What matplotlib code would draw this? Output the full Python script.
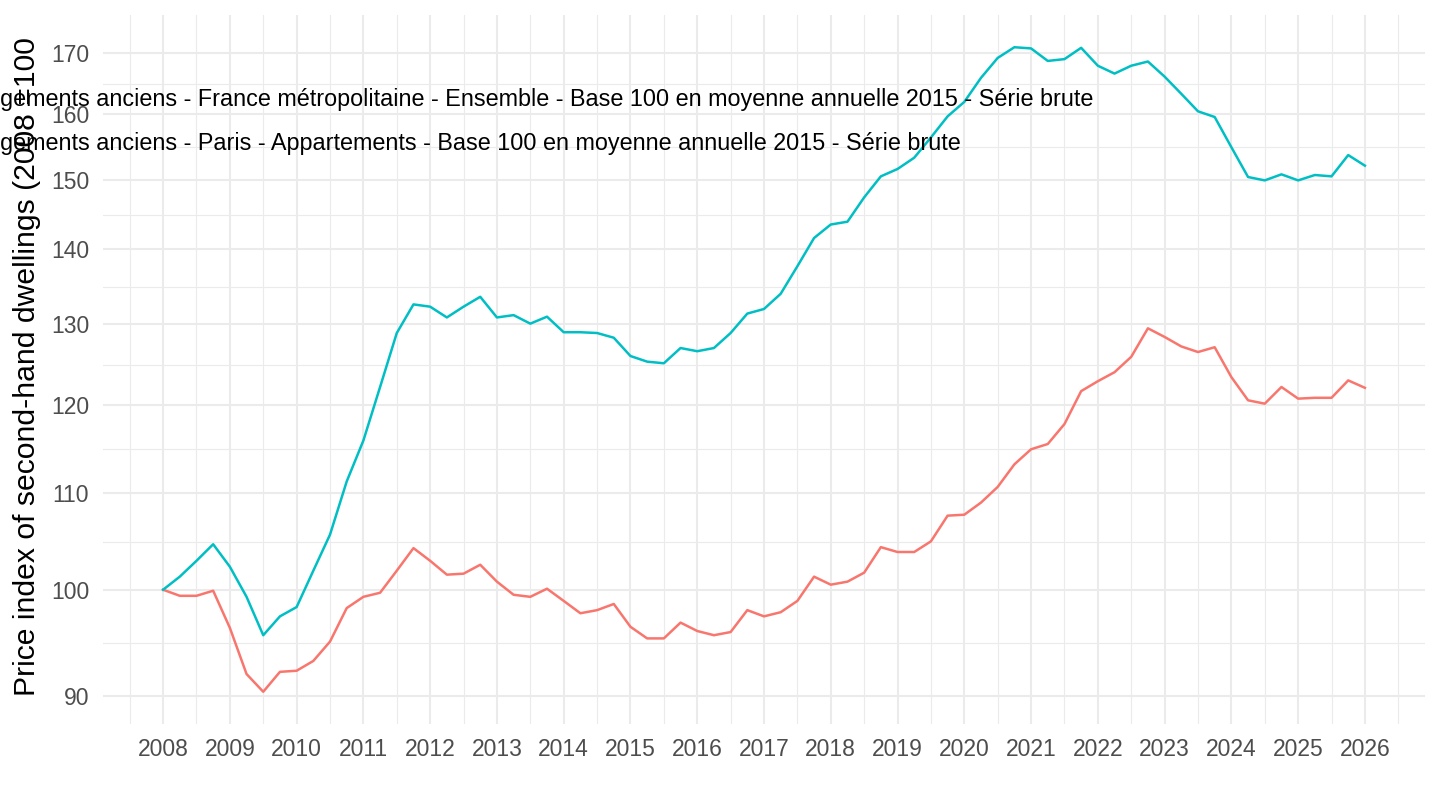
import numpy as np
import pandas as pd
import matplotlib
matplotlib.use("Agg")
import matplotlib.pyplot as plt

plt.rcParams['font.family'] = ['Liberation Sans', 'DejaVu Sans']

# quarterly index, 2008Q1 .. 2026Q1 (2008 = 100)
quarters = pd.date_range("2008-01-01", "2026-01-01", freq="QS")

france = [100.0, 99.4, 99.4, 99.9,
          96.3, 92.0, 90.4, 92.2,
          92.3, 93.2, 95.0, 98.2,
          99.3, 99.7, 101.9, 104.2,
          102.9, 101.5, 101.6, 102.5,
          100.8, 99.5, 99.3, 100.1,
          98.9, 97.7, 98.0, 98.6,
          96.4, 95.3, 95.3, 96.8,
          96.0, 95.6, 95.9, 98.0,
          97.4, 97.8, 98.9, 101.3,
          100.5, 100.8, 101.7, 104.3,
          103.8, 103.8, 104.9, 107.6,
          107.7, 109.0, 110.7, 113.2,
          114.9, 115.5, 117.8, 121.7,
          122.9, 124.0, 125.9, 129.5,
          128.4, 127.2, 126.5, 127.1,
          123.4, 120.6, 120.2, 122.2,
          120.8, 120.9, 120.9, 123.0,
          122.1]

paris = [100.0, 101.3, 102.9, 104.6,
         102.3, 99.3, 95.6, 97.4,
         98.3, 101.9, 105.6, 111.3,
         115.9, 122.2, 128.9, 132.6,
         132.3, 130.9, 132.3, 133.6,
         130.9, 131.2, 130.1, 131.0,
         129.0, 129.0, 128.9, 128.3,
         126.0, 125.3, 125.1, 127.0,
         126.6, 127.0, 128.9, 131.4,
         132.0, 134.0, 137.7, 141.6,
         143.5, 143.9, 147.4, 150.5,
         151.6, 153.3, 156.4, 159.7,
         162.0, 165.9, 169.2, 171.0,
         170.8, 168.7, 169.0, 170.9,
         167.9, 166.6, 167.9, 168.6,
         166.1, 163.3, 160.5, 159.6,
         154.9, 150.4, 149.9, 150.8,
         149.9, 150.7, 150.5, 153.7,
         152.1]

labels = ["Indice des prix des logements anciens - France métropolitaine - Ensemble - Base 100 en moyenne annuelle 2015 - Série brute",
          "Indice des prix des logements anciens - Paris - Appartements - Base 100 en moyenne annuelle 2015 - Série brute"]
colors = ["#F8766D", "#00BFC4"]

year_ticks = list(range(2008, 2027))
y_ticks = [90, 100, 110, 120, 130, 140, 150, 160, 170]

x = quarters.year + (quarters.month - 1) / 12.0

fig = plt.figure(figsize=(14.4, 8.1), dpi=100)
ax = fig.add_axes([103/1440, 1 - 724/810, 1322/1440, 709/810])

# grid, ggplot minimal style
for yr in year_ticks:
    ax.axvline(yr, color="#EBEBEB", lw=1.5, zorder=1)
for yr in np.arange(2007.5, 2027, 1.0):
    ax.axvline(yr, color="#EBEBEB", lw=0.8, zorder=1)
for v in y_ticks:
    ax.axhline(v, color="#EBEBEB", lw=1.5, zorder=1)
for a, b in zip(y_ticks[:-1], y_ticks[1:]):
    ax.axhline(np.sqrt(a * b), color="#EBEBEB", lw=0.8, zorder=1)

ax.plot(x, france, color=colors[0], lw=1.8, zorder=3)
ax.plot(x, paris, color=colors[1], lw=1.8, zorder=3)

ax.set_yscale("log")
allv = np.array(france + paris)
lo, hi = np.log(allv.min()), np.log(allv.max())
pad = (hi - lo) * 0.05
ax.set_ylim(np.exp(lo - pad), np.exp(hi + pad))
ax.set_xlim(2008 - 0.9, 2026 + 0.9)

ax.set_yticks(y_ticks)
ax.set_yticklabels([str(v) for v in y_ticks])
ax.yaxis.set_minor_locator(matplotlib.ticker.NullLocator())
ax.set_xticks(year_ticks)
ax.set_xticklabels([str(v) for v in year_ticks])
ax.tick_params(length=0, labelsize=16.5, labelcolor="#4D4D4D", pad=10)
for s in ax.spines.values():
    s.set_visible(False)

fig.text(27/1440, 1 - 367/810, "Price index of second-hand dwellings (2008 =100",
         rotation=90, ha="center", va="center", fontsize=21.7)

# legend text, keys fall off the left edge of the figure
t1 = fig.text(0, 1 - 106/810, labels[0], fontsize=16.8, ha="right", va="baseline")
t1.set_x(1093/1440)
fig.canvas.draw()
bb = t1.get_window_extent()
x0 = bb.x0 / 1440
t1.set_ha("left")
t1.set_x(x0)
fig.text(x0, 1 - 150/810, labels[1], fontsize=16.8, ha="left", va="baseline")

fig.savefig("out.png", dpi=100)
